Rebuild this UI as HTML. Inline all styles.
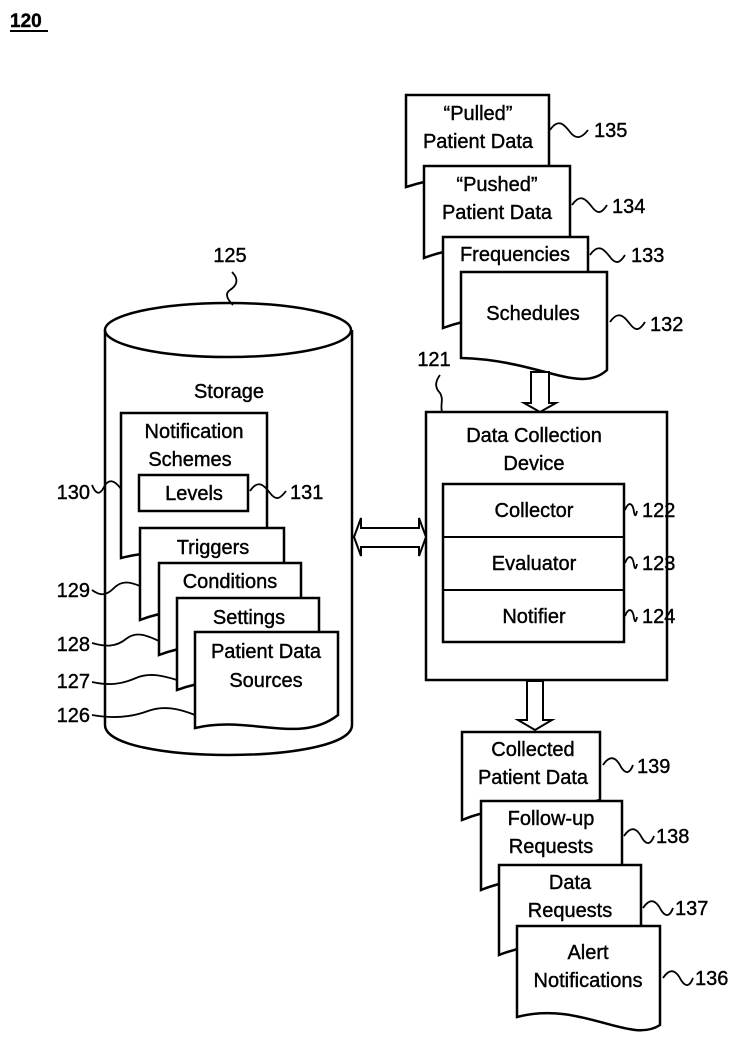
<!DOCTYPE html>
<html><head><meta charset="utf-8"><style>
html,body{margin:0;padding:0;background:#fff;}
svg{display:block;}
text{font-family:"Liberation Sans",sans-serif;font-size:20px;fill:#000;stroke:#000;stroke-width:0.4;}
</style></head><body>
<svg width="740" height="1046" viewBox="0 0 740 1046" xmlns="http://www.w3.org/2000/svg">
<g fill="none" stroke="#000" stroke-width="2.5">
<path d="M105,330 V725 C105,765 352,765 352,725 V330" fill="#fff"/>
<ellipse cx="228" cy="330" rx="123" ry="27" fill="#fff"/>
</g>
<text x="10" y="27" style="font-weight:bold;font-size:19px">120</text>
<line x1="10" y1="31" x2="48" y2="31" stroke="#000" stroke-width="2"/>

<g fill="#fff" stroke="#000" stroke-width="2.5">
<path d="M121,413 H267 V540 C230,560 170,545 121,558 Z"/>
<rect x="139" y="475" width="109" height="36"/>
<path d="M140,528 H284 V600 C240,620 190,600 140,620 Z"/>
<path d="M159,563 H301 V635 C260,655 210,635 159,655 Z"/>
<path d="M177,598 H319 V670 C280,690 230,670 177,690 Z"/>
<path d="M195,632 H338 V715 C300,745 250,715 195,728 Z"/>
<path d="M406,95 H549 V168 C500,175 460,170 406,187 Z"/>
<path d="M424,166 H570 V238 C520,250 470,240 424,258 Z"/>
<path d="M443,237 H588 V308 C540,320 490,310 443,328 Z"/>
<path d="M461,272 H607 V370 C580,395 540,360 461,358 Z"/>
<rect x="426" y="412" width="241" height="268"/>
<rect x="443" y="484" width="181" height="158"/>
<line x1="443" y1="537" x2="624" y2="537" stroke-width="2"/>
<line x1="443" y1="590" x2="624" y2="590" stroke-width="2"/>
<path d="M462,732 H600 V800 C560,812 510,800 462,820 Z"/>
<path d="M481,801 H622 V870 C580,882 530,870 481,890 Z"/>
<path d="M499,865 H641 V935 C600,947 550,935 499,955 Z"/>
<path d="M517,926 H660 V1025 C630,1045 580,1000 517,1017 Z"/>
<path d="M531,372 V403 H524 L540,412 L556,403 H549 V372 Z" stroke-width="2"/>
<path d="M527,681 V720 H518 L535,730 L552,720 H543 V681 Z" stroke-width="2"/>
<path d="M354,537 L361,518 V528 H419 V518 L426,537 L419,556 V547 H361 V556 Z" stroke-width="2"/>
</g>

<g fill="none" stroke="#000" stroke-width="1.8">
<path d="M550,130 c8,-12 14,-6 20,2 c6,8 12,6 18,-2"/>
<path d="M572,205 c8,-12 14,-6 20,2 c6,8 10,6 15,-2"/>
<path d="M590,255 c8,-12 14,-6 20,2 c6,8 10,6 15,-2"/>
<path d="M610,322 c8,-12 14,-6 20,2 c6,8 10,6 15,-2"/>
<path d="M625,510 c4,-10 8,-6 9,2 c1,5 2,4 3,-1"/>
<path d="M625,563 c4,-10 8,-6 9,2 c1,5 2,4 3,-1"/>
<path d="M625,616 c4,-10 8,-6 9,2 c1,5 2,4 3,-1"/>
<path d="M603,765 c8,-12 14,-6 18,2 c5,8 9,6 12,-2"/>
<path d="M624,836 c8,-12 14,-6 18,2 c5,8 9,6 12,-2"/>
<path d="M643,908 c8,-12 14,-6 18,2 c5,8 9,6 12,-2"/>
<path d="M663,978 c8,-12 14,-6 18,2 c5,8 9,6 12,-2"/>
<path d="M250,491 c8,-12 14,-6 20,2 c6,8 10,6 16,-2"/>
<path d="M92,485 c4,10 8,10 12,2 c4,-8 10,-8 17,2"/>
<path d="M92,590 c8,6 14,6 22,-2 c8,-8 16,-6 26,-2"/>
<path d="M92,643 c14,4 24,4 34,-4 c10,-8 20,-4 33,2"/>
<path d="M92,682 c18,4 30,2 44,-4 c14,-6 28,-2 41,2"/>
<path d="M92,715 c22,4 40,2 56,-4 c16,-6 32,-2 47,4"/>
<path d="M232,272 c8,8 4,14 -2,18 c-6,4 -2,10 3,15"/>
<path d="M440,375 c-6,8 -4,14 0,18 c4,6 0,12 2,19"/>
</g>

<g text-anchor="middle">
<text x="478" y="120">“Pulled”</text>
<text x="478" y="148">Patient Data</text>
<text x="497" y="191">“Pushed”</text>
<text x="497" y="219">Patient Data</text>
<text x="515" y="261">Frequencies</text>
<text x="533" y="320">Schedules</text>
<text x="534" y="442">Data Collection</text>
<text x="534" y="470">Device</text>
<text x="534" y="517">Collector</text>
<text x="534" y="570">Evaluator</text>
<text x="534" y="623">Notifier</text>
<text x="229" y="398">Storage</text>
<text x="194" y="438">Notification</text>
<text x="190" y="466">Schemes</text>
<text x="194" y="500">Levels</text>
<text x="213" y="554">Triggers</text>
<text x="230" y="588">Conditions</text>
<text x="249" y="624">Settings</text>
<text x="266" y="658">Patient Data</text>
<text x="266" y="687">Sources</text>
<text x="533" y="756">Collected</text>
<text x="533" y="784">Patient Data</text>
<text x="551" y="825">Follow-up</text>
<text x="551" y="853">Requests</text>
<text x="570" y="889">Data</text>
<text x="570" y="917">Requests</text>
<text x="588" y="959">Alert</text>
<text x="588" y="987">Notifications</text>
<text x="230" y="262">125</text>
<text x="434" y="366">121</text>
</g>
<g>
<text x="594" y="137">135</text>
<text x="612" y="213">134</text>
<text x="631" y="262">133</text>
<text x="650" y="331">132</text>
<text x="642" y="517">122</text>
<text x="642" y="570">123</text>
<text x="642" y="623">124</text>
<text x="637" y="773">139</text>
<text x="656" y="843">138</text>
<text x="675" y="915">137</text>
<text x="695" y="985">136</text>
<text x="290" y="499">131</text>
</g>
<g text-anchor="end">
<text x="90" y="499">130</text>
<text x="90" y="597">129</text>
<text x="90" y="651">128</text>
<text x="90" y="688">127</text>
<text x="90" y="722">126</text>
</g>
</svg>
</body></html>
